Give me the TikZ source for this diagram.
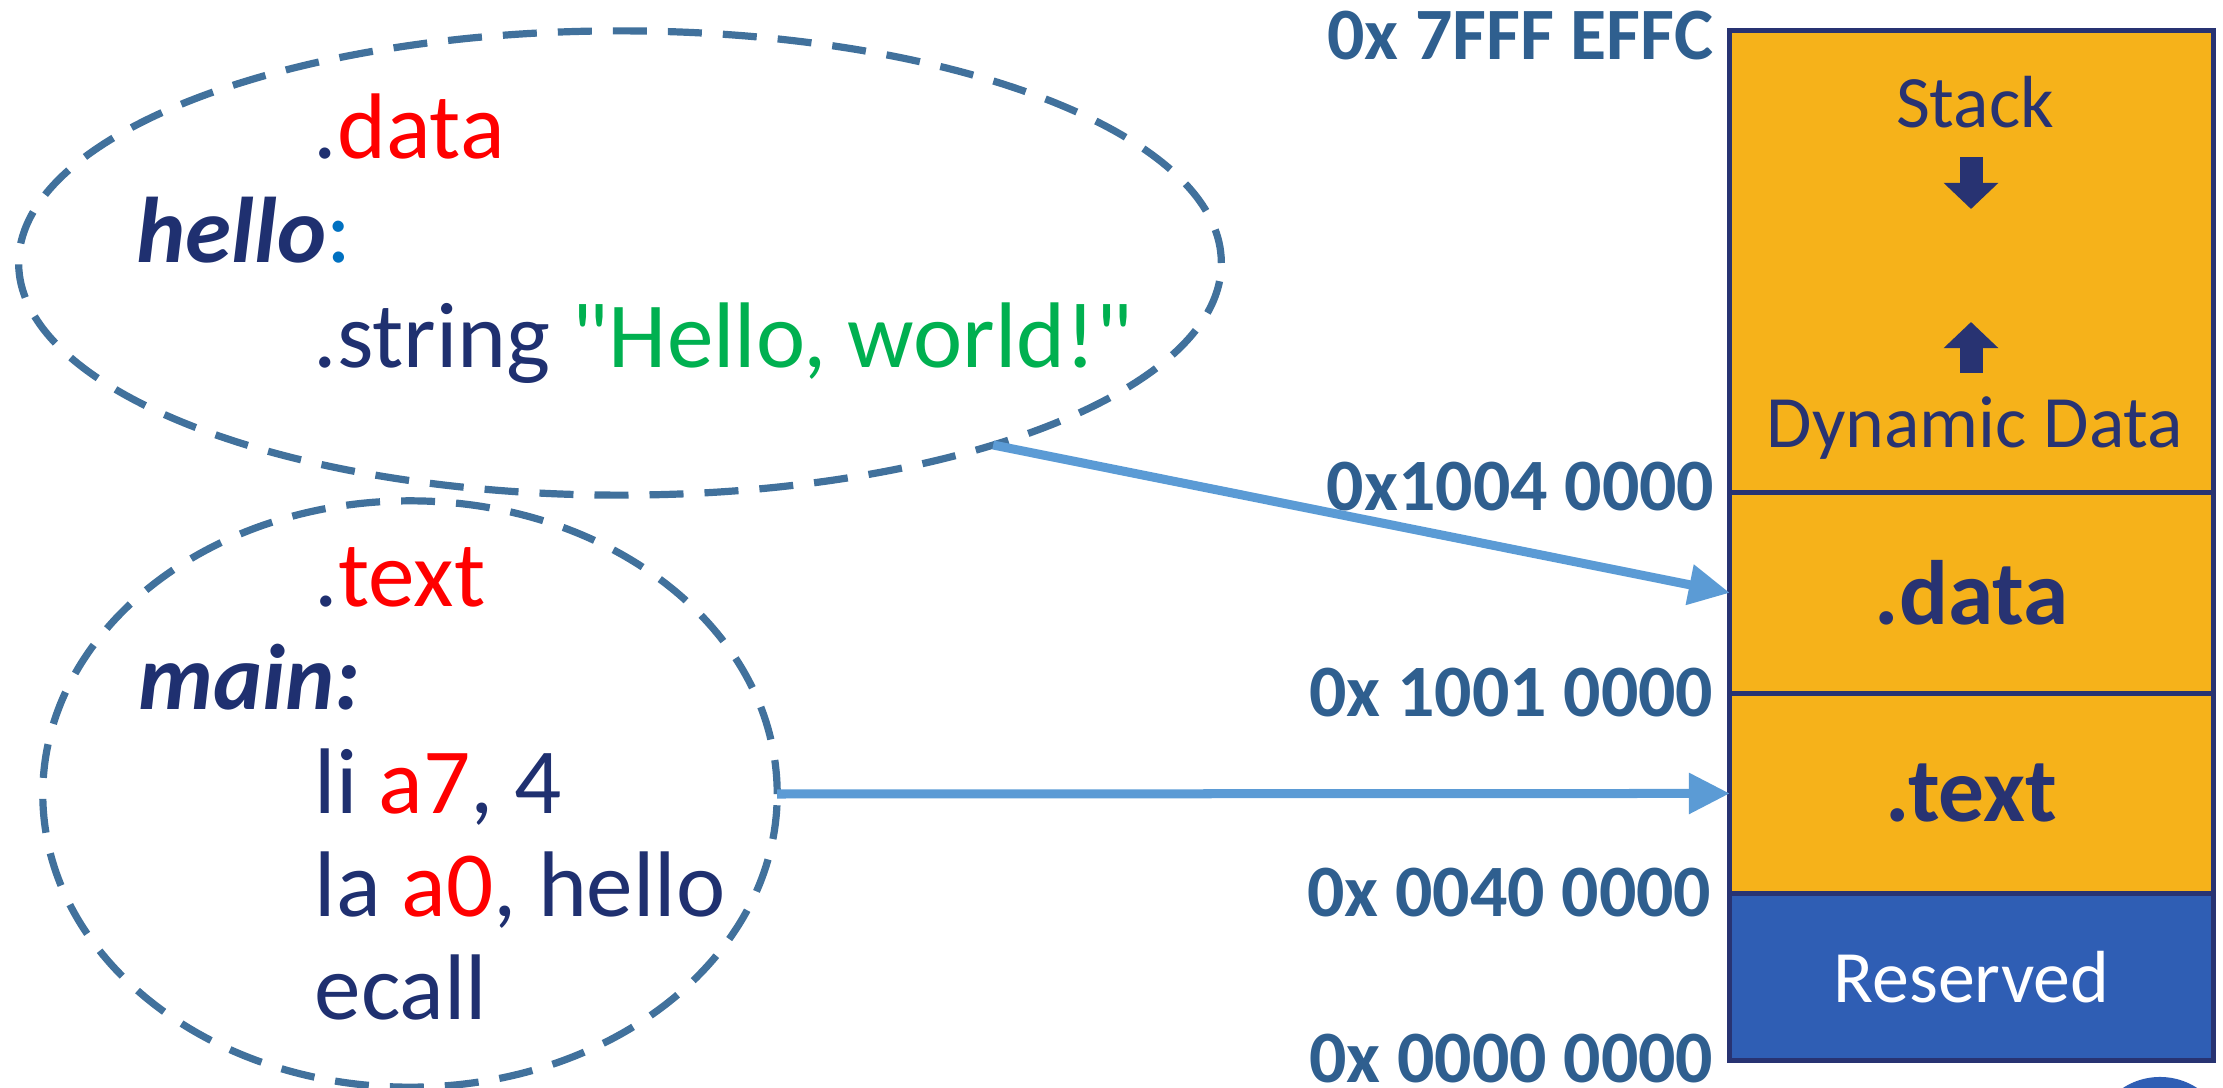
\documentclass[tikz,border=0pt]{standalone}
\usepackage{fontspec}
\setmainfont{Carlito}
\newfontfamily\rawfont{Carlito}
\usetikzlibrary{arrows.meta,positioning,shapes.geometric}
\definecolor{addrblue}{HTML}{2F5F8F}
\definecolor{segorange}{HTML}{F6B21A}
\definecolor{segnavy}{HTML}{283372}
\definecolor{resblue}{HTML}{2F5EB4}
\definecolor{codenavy}{HTML}{1F3070}
\definecolor{codered}{HTML}{FF0000}
\definecolor{codegreen}{HTML}{00B050}
\definecolor{colonblue}{HTML}{0070C0}
\definecolor{blobline}{HTML}{41719C}
\definecolor{linkblue}{HTML}{5B9BD5}

\begin{document}
\begin{tikzpicture}[x=0.01cm,y=-0.01cm,node distance=0pt,
  seg/.style={rectangle,draw=segnavy,line width=0.05cm,fill=segorange,minimum width=4.83cm,
    outer sep=0pt,inner sep=0pt,text=segnavy,font=\fontsize{26}{30}\selectfont\bfseries},
  addr/.style={anchor=base east,inner sep=0pt,text=addrblue,font=\fontsize{21}{25}\selectfont\bfseries},
  seglbl/.style={anchor=base,inner sep=0pt,text=segnavy,font=\fontsize{21}{25}\selectfont},
  blob/.style={ellipse,draw=blobline,line width=0.072cm,dash pattern=on 0.34cm off 0.21cm,
    outer sep=0pt,inner sep=0pt},
  codeline/.style={anchor=base west,inner sep=0pt,text=codenavy,font=\fontsize{26.5}{29.5}\selectfont},
  linkarrow/.style={draw=linkblue,line width=0.09cm,-{Triangle[length=0.41cm,width=0.39cm]}},
  growarrow/.style={draw=segnavy,line width=0.23cm,-{Triangle[length=0.26cm,width=0.53cm]}}]
  \clip (0,0) rectangle (2223,1088);

  % memory map
  \node[seg,minimum height=4.61cm,anchor=north] (stackSeg) at (1971.5,31) {};
  \node[seg,minimum height=2.01cm,below=of stackSeg] (dataSeg) {.data};
  \node[seg,minimum height=2.00cm,below=of dataSeg] (textSeg) {.text};
  \node[seg,minimum height=1.67cm,below=of textSeg,fill=resblue,text=white,
    font=\fontsize{21}{25}\selectfont] (resSeg) {Reserved};
  \node[seglbl] (stackLbl) at (1975,128) {Stack};
  \node[seglbl] (dynLbl) at (1975,448) {Dynamic Data};
  \draw[growarrow] (1971,157) -- (1971,209);
  \draw[growarrow] (1971,373) -- (1971,322);

  % addresses
  \node[addr] (a7fff) at (1714,60) {0x 7FFF EFFC};
  \node[addr] (a1004) at (1715,510) {0x1004 0000};
  \node[addr] (a1001) at (1714,716) {0x 1001 0000};
  \node[addr] (a0040) at (1712,916) {0x 0040 0000};
  \node[addr] (a0000) at (1714,1082) {0x 0000 0000};

  % source
  \node[blob,minimum width=12.02cm,minimum height=4.64cm] (dataBlob) at (620,263) {};
  \node[blob,minimum width=7.34cm,minimum height=5.86cm] (textBlob) at (410,794) {};
  \node[codeline] (dataDir) at (313,159) {.\textcolor{codered}{data}};
  \node[codeline] (helloLbl) at (136,263) {\textbf{\textit{hello}}\textcolor{colonblue}{:}};
  \node[codeline] (strLine) at (313,367) {.string \textcolor{codegreen}{{\rawfont"}Hello, world!{\rawfont"}}};
  \node[codeline] (textDir) at (314,606) {.\textcolor{codered}{text}};
  \node[codeline] (mainLbl) at (138,709) {\textbf{\textit{main:}}};
  \node[codeline] (liLine) at (314,813) {li \textcolor{codered}{a7}, 4};
  \node[codeline] (laLine) at (314,916) {la \textcolor{codered}{a0}, hello};
  \node[codeline] (ecallLine) at (314,1019) {ecall};

  \draw[linkarrow] (dataBlob.-26.6) -- (dataSeg.west);
  \draw[linkarrow] (textBlob.east) -- (textSeg.west);

  \node[circle,fill=resblue,minimum size=1.36cm,inner sep=0pt] (pageDot) at (2160,1145) {};
\end{tikzpicture}
\end{document}
